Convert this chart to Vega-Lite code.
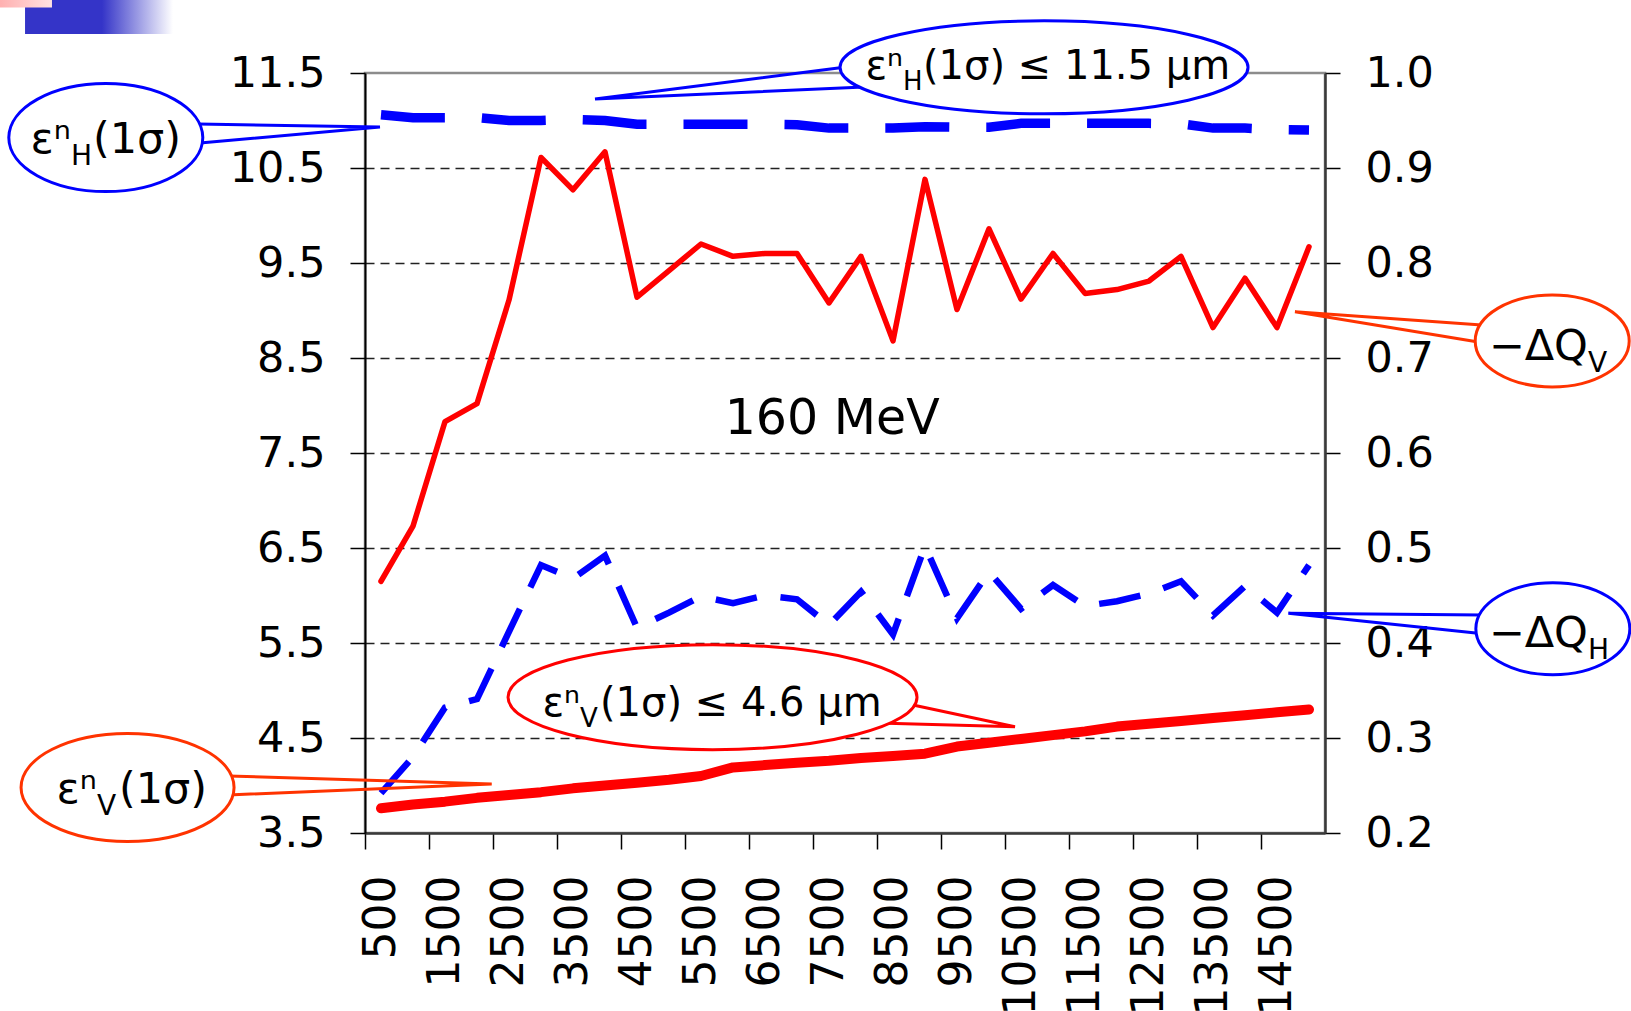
{
  "$schema": "https://vega.github.io/schema/vega-lite/v6.json",
  "width": 960,
  "height": 760,
  "autosize": {"type": "none"},
  "padding": {"left": 365, "top": 73, "right": 306, "bottom": 178},
  "background": "white",
  "config": {
    "view": {"stroke": "#8c8c8c", "strokeWidth": 2.5},
    "font": "DejaVu Sans",
    "axis": {"labelFont": "DejaVu Sans", "labelColor": "#000000"}
  },
  "datasets": {
    "runs": [
      {"e": 500, "epsH": 11.06, "epsV": 3.76, "dQV": 0.465, "dQH": 0.242},
      {"e": 1000, "epsH": 11.03, "epsV": 3.80, "dQV": 0.523, "dQH": 0.280},
      {"e": 1500, "epsH": 11.03, "epsV": 3.83, "dQV": 0.633, "dQH": 0.332},
      {"e": 2000, "epsH": 11.03, "epsV": 3.87, "dQV": 0.652, "dQH": 0.341},
      {"e": 2500, "epsH": 11.00, "epsV": 3.90, "dQV": 0.761, "dQH": 0.412},
      {"e": 3000, "epsH": 11.00, "epsV": 3.93, "dQV": 0.911, "dQH": 0.482},
      {"e": 3500, "epsH": 11.01, "epsV": 3.97, "dQV": 0.877, "dQH": 0.468},
      {"e": 4000, "epsH": 11.00, "epsV": 4.00, "dQV": 0.917, "dQH": 0.492},
      {"e": 4500, "epsH": 10.96, "epsV": 4.03, "dQV": 0.764, "dQH": 0.416},
      {"e": 5000, "epsH": 10.96, "epsV": 4.06, "dQV": 0.792, "dQH": 0.432},
      {"e": 5500, "epsH": 10.96, "epsV": 4.10, "dQV": 0.820, "dQH": 0.449},
      {"e": 6000, "epsH": 10.96, "epsV": 4.19, "dQV": 0.807, "dQH": 0.442},
      {"e": 6500, "epsH": 10.96, "epsV": 4.215, "dQV": 0.810, "dQH": 0.450},
      {"e": 7000, "epsH": 10.955, "epsV": 4.24, "dQV": 0.810, "dQH": 0.446},
      {"e": 7500, "epsH": 10.92, "epsV": 4.26, "dQV": 0.758, "dQH": 0.419},
      {"e": 8000, "epsH": 10.92, "epsV": 4.29, "dQV": 0.807, "dQH": 0.454},
      {"e": 8500, "epsH": 10.92, "epsV": 4.31, "dQV": 0.718, "dQH": 0.409},
      {"e": 9000, "epsH": 10.935, "epsV": 4.335, "dQV": 0.888, "dQH": 0.502},
      {"e": 9500, "epsH": 10.93, "epsV": 4.41, "dQV": 0.751, "dQH": 0.426},
      {"e": 10000, "epsH": 10.93, "epsV": 4.45, "dQV": 0.836, "dQH": 0.475},
      {"e": 10500, "epsH": 10.97, "epsV": 4.49, "dQV": 0.762, "dQH": 0.436},
      {"e": 11000, "epsH": 10.97, "epsV": 4.53, "dQV": 0.810, "dQH": 0.461},
      {"e": 11500, "epsH": 10.97, "epsV": 4.57, "dQV": 0.768, "dQH": 0.439},
      {"e": 12000, "epsH": 10.97, "epsV": 4.62, "dQV": 0.772, "dQH": 0.444},
      {"e": 12500, "epsH": 10.97, "epsV": 4.65, "dQV": 0.781, "dQH": 0.452},
      {"e": 13000, "epsH": 10.965, "epsV": 4.68, "dQV": 0.807, "dQH": 0.465},
      {"e": 13500, "epsH": 10.92, "epsV": 4.71, "dQV": 0.732, "dQH": 0.429},
      {"e": 14000, "epsH": 10.92, "epsV": 4.74, "dQV": 0.784, "dQH": 0.460},
      {"e": 14500, "epsH": 10.905, "epsV": 4.77, "dQV": 0.732, "dQH": 0.432},
      {"e": 15000, "epsH": 10.90, "epsV": 4.80, "dQV": 0.817, "dQH": 0.482}
    ],
    "balloons": [
      {"id": "eH", "tone": "blue", "e": -3800, "v": 10.82},
      {"id": "eHmax", "tone": "blue", "e": 10860, "v": 11.56},
      {"id": "eVmax", "tone": "red", "e": 5680, "v": 4.93},
      {"id": "eV", "tone": "orange", "e": -3460, "v": 3.98},
      {"id": "dQV", "tone": "orange", "e": 18800, "v": 8.68},
      {"id": "dQH", "tone": "blue", "e": 18810, "v": 5.65}
    ],
    "leaders": [
      {"id": "eH", "tone": "blue", "k": 0, "e": -2359, "v": 10.963},
      {"id": "eH", "tone": "blue", "k": 1, "e": 484, "v": 10.932},
      {"id": "eH", "tone": "blue", "k": 2, "e": -2328, "v": 10.763},
      {"id": "eHmax", "tone": "blue", "k": 0, "e": 7766, "v": 11.563},
      {"id": "eHmax", "tone": "blue", "k": 1, "e": 3844, "v": 11.226},
      {"id": "eHmax", "tone": "blue", "k": 2, "e": 8047, "v": 11.353},
      {"id": "eVmax", "tone": "red", "k": 0, "e": 8812, "v": 4.847},
      {"id": "eVmax", "tone": "red", "k": 1, "e": 10406, "v": 4.619},
      {"id": "eVmax", "tone": "red", "k": 2, "e": 8402, "v": 4.655},
      {"id": "eV", "tone": "orange", "k": 0, "e": -1891, "v": 4.10},
      {"id": "eV", "tone": "orange", "k": 1, "e": 2230, "v": 4.016},
      {"id": "eV", "tone": "orange", "k": 2, "e": -1891, "v": 3.90},
      {"id": "dQV", "tone": "orange", "k": 0, "e": 17698, "v": 8.847},
      {"id": "dQV", "tone": "orange", "k": 1, "e": 14781, "v": 8.987},
      {"id": "dQV", "tone": "orange", "k": 2, "e": 17620, "v": 8.672},
      {"id": "dQH", "tone": "blue", "k": 0, "e": 17703, "v": 5.795},
      {"id": "dQH", "tone": "blue", "k": 1, "e": 14677, "v": 5.813},
      {"id": "dQH", "tone": "blue", "k": 2, "e": 17641, "v": 5.602}
    ],
    "captions": [
      {"id": "eH", "kind": "short", "head": "εⁿ", "sub": "H", "tail": "(1σ)", "e": -4344, "v": 10.658},
      {"id": "eHmax", "kind": "long", "head": "εⁿ", "sub": "H", "tail": "(1σ) ≤ 11.5 μm", "e": 8656, "v": 11.437},
      {"id": "eVmax", "kind": "long", "head": "εⁿ", "sub": "V", "tail": "(1σ) ≤ 4.6 μm", "e": 3609, "v": 4.732},
      {"id": "eV", "kind": "short", "head": "εⁿ", "sub": "V", "tail": "(1σ)", "e": -3938, "v": 3.816},
      {"id": "dQV", "kind": "short", "head": "−ΔQ", "sub": "V", "tail": "", "e": 19359, "v": 8.479},
      {"id": "dQH", "kind": "short", "head": "−ΔQ", "sub": "H", "tail": "", "e": 19359, "v": 5.458}
    ],
    "notes": [
      {"text": "160 MeV", "e": 7550, "v": 7.70}
    ],
    "decor": [
      {"part": "band", "e": -5062, "e2": -2750, "v": 12.268, "v2": 11.91},
      {"part": "tab", "e": -5453, "e2": -4641, "v": 12.268, "v2": 12.19}
    ]
  },
  "resolve": {"scale": {"y": "independent"}},
  "layer": [
    {
      "data": {"name": "runs"},
      "layer": [
        {
          "mark": {"type": "line", "color": "#0000FF", "strokeWidth": 9.5, "strokeDash": [64, 37], "strokeCap": "butt"},
          "encoding": {
            "x": {
              "field": "e", "type": "quantitative",
              "scale": {"domain": [250, 15250], "nice": false, "zero": false},
              "axis": {
                "title": null,
                "values": [500, 1500, 2500, 3500, 4500, 5500, 6500, 7500, 8500, 9500, 10500, 11500, 12500, 13500, 14500],
                "format": "d",
                "labelAngle": -90,
                "labelAlign": "right",
                "labelBaseline": "middle",
                "labelFontSize": 44,
                "labelPadding": 26,
                "labelOverlap": false,
                "labelFlush": false,
                "labelBound": false,
                "tickSize": 16,
                "tickOffset": -16,
                "labelOffset": 16,
                "tickColor": "#000000",
                "tickWidth": 1.5,
                "domainColor": "#3a3a3a",
                "domainWidth": 2.5,
                "grid": false
              }
            },
            "y": {
              "field": "epsH", "type": "quantitative",
              "scale": {"domain": [3.5, 11.5], "nice": false, "zero": false},
              "axis": {
                "orient": "left",
                "title": null,
                "values": [3.5, 4.5, 5.5, 6.5, 7.5, 8.5, 9.5, 10.5, 11.5],
                "format": ".1f",
                "labelFontSize": 43,
                "labelPadding": 25,
                "labelFlush": false,
                "labelOverlap": false,
                "tickSize": 15,
                "tickColor": "#000000",
                "tickWidth": 1.5,
                "domainColor": "#000000",
                "domainWidth": 2,
                "grid": true,
                "gridColor": "#222222",
                "gridDash": [9, 6],
                "gridWidth": 1.3,
                "gridOpacity": {"condition": {"test": "datum.value <= 3.5 || datum.value >= 11.5", "value": 0}, "value": 1}
              }
            }
          }
        },
        {
          "mark": {"type": "line", "color": "#FF0000", "strokeWidth": 10, "strokeCap": "round", "strokeJoin": "round"},
          "encoding": {
            "x": {"field": "e", "type": "quantitative", "scale": {"domain": [250, 15250], "nice": false, "zero": false}},
            "y": {"field": "epsV", "type": "quantitative", "scale": {"domain": [3.5, 11.5], "nice": false, "zero": false}}
          }
        }
      ]
    },
    {
      "data": {"name": "runs"},
      "layer": [
        {
          "mark": {"type": "line", "color": "#FF0000", "strokeWidth": 5.5, "strokeCap": "round", "strokeJoin": "round"},
          "encoding": {
            "x": {"field": "e", "type": "quantitative", "scale": {"domain": [250, 15250], "nice": false, "zero": false}},
            "y": {
              "field": "dQV", "type": "quantitative",
              "scale": {"domain": [0.2, 1.0], "nice": false, "zero": false},
              "axis": {
                "orient": "right",
                "title": null,
                "values": [0.2, 0.3, 0.4, 0.5, 0.6, 0.7, 0.8, 0.9, 1.0],
                "format": ".1f",
                "labelFontSize": 43,
                "labelPadding": 25,
                "labelFlush": false,
                "labelOverlap": false,
                "tickSize": 15,
                "tickColor": "#000000",
                "tickWidth": 1.5,
                "domainColor": "#3a3a3a",
                "domainWidth": 2.5,
                "grid": false
              }
            }
          }
        },
        {
          "mark": {"type": "line", "color": "#0000FF", "strokeWidth": 6.5, "strokeDash": [42, 24], "strokeCap": "butt"},
          "encoding": {
            "x": {"field": "e", "type": "quantitative", "scale": {"domain": [250, 15250], "nice": false, "zero": false}},
            "y": {"field": "dQH", "type": "quantitative", "scale": {"domain": [0.2, 1.0], "nice": false, "zero": false}}
          }
        }
      ]
    },
    {
      "layer": [
        {
          "data": {"name": "decor"},
          "transform": [{"filter": "datum.part === 'band'"}],
          "mark": {
            "type": "rect",
            "fill": {"gradient": "linear", "x1": 0, "y1": 0, "x2": 1, "y2": 0,
              "stops": [{"offset": 0, "color": "#3434C8"}, {"offset": 0.52, "color": "#3434C8"}, {"offset": 1, "color": "#ffffff"}]}
          },
          "encoding": {
            "x": {"field": "e", "type": "quantitative", "scale": {"domain": [250, 15250], "nice": false, "zero": false}},
            "x2": {"field": "e2"},
            "y": {"field": "v", "type": "quantitative", "scale": {"domain": [3.5, 11.5], "nice": false, "zero": false}, "axis": null},
            "y2": {"field": "v2"}
          }
        },
        {
          "data": {"name": "decor"},
          "transform": [{"filter": "datum.part === 'tab'"}],
          "mark": {
            "type": "rect",
            "fill": {"gradient": "linear", "x1": 0, "y1": 0, "x2": 1, "y2": 0,
              "stops": [{"offset": 0, "color": "#FFB0B0"}, {"offset": 1, "color": "#FFE2E2"}]}
          },
          "encoding": {
            "x": {"field": "e", "type": "quantitative", "scale": {"domain": [250, 15250], "nice": false, "zero": false}},
            "x2": {"field": "e2"},
            "y": {"field": "v", "type": "quantitative", "scale": {"domain": [3.5, 11.5], "nice": false, "zero": false}, "axis": null},
            "y2": {"field": "v2"}
          }
        },
        {
          "data": {"name": "leaders"},
          "mark": {"type": "line", "strokeWidth": 3, "strokeJoin": "miter"},
          "encoding": {
            "x": {"field": "e", "type": "quantitative", "scale": {"domain": [250, 15250], "nice": false, "zero": false}},
            "y": {"field": "v", "type": "quantitative", "scale": {"domain": [3.5, 11.5], "nice": false, "zero": false}, "axis": null},
            "detail": {"field": "id"},
            "order": {"field": "k"},
            "stroke": {"field": "tone", "type": "nominal", "scale": {"domain": ["blue", "red", "orange"], "range": ["#0000FF", "#FF0000", "#FF3300"]}, "legend": null}
          }
        },
        {
          "data": {"name": "balloons"},
          "mark": {"type": "point", "filled": true, "fill": "#ffffff", "opacity": 1, "fillOpacity": 1, "strokeOpacity": 1, "strokeWidth": 3, "size": 4},
          "encoding": {
            "x": {"field": "e", "type": "quantitative", "scale": {"domain": [250, 15250], "nice": false, "zero": false}},
            "y": {"field": "v", "type": "quantitative", "scale": {"domain": [3.5, 11.5], "nice": false, "zero": false}, "axis": null},
            "stroke": {"field": "tone", "type": "nominal", "scale": {"domain": ["blue", "red", "orange"], "range": ["#0000FF", "#FF0000", "#FF3300"]}, "legend": null},
            "shape": {
              "field": "id", "type": "nominal", "legend": null,
              "scale": {
                "domain": ["eH", "eHmax", "eVmax", "eV", "dQV", "dQH"],
                "range": [
                  "M-97,0C-97,-29.82,-53.57,-54,0,-54C53.57,-54,97,-29.82,97,0C97,29.82,53.57,54,0,54C-53.57,54,-97,29.82,-97,0Z",
                  "M-204,0C-204,-25.68,-112.67,-46.5,0,-46.5C112.67,-46.5,204,-25.68,204,0C204,25.68,112.67,46.5,0,46.5C-112.67,46.5,-204,25.68,-204,0Z",
                  "M-204.5,0C-204.5,-29,-112.95,-52.5,0,-52.5C112.95,-52.5,204.5,-29,204.5,0C204.5,29,112.95,52.5,0,52.5C-112.95,52.5,-204.5,29,-204.5,0Z",
                  "M-106.5,0C-106.5,-29.82,-58.82,-54,0,-54C58.82,-54,106.5,-29.82,106.5,0C106.5,29.82,58.82,54,0,54C-58.82,54,-106.5,29.82,-106.5,0Z",
                  "M-77,0C-77,-25.41,-42.53,-46,0,-46C42.53,-46,77,-25.41,77,0C77,25.41,42.53,46,0,46C-42.53,46,-77,25.41,-77,0Z",
                  "M-77,0C-77,-25.41,-42.53,-46,0,-46C42.53,-46,77,-25.41,77,0C77,25.41,42.53,46,0,46C-42.53,46,-77,25.41,-77,0Z"
                ]
              }
            }
          }
        },
        {
          "data": {"name": "captions"},
          "transform": [{"filter": "datum.kind === 'short'"}],
          "mark": {"type": "text", "align": "right", "baseline": "alphabetic", "fontSize": 43, "font": "DejaVu Sans", "color": "#000000"},
          "encoding": {
            "x": {"field": "e", "type": "quantitative", "scale": {"domain": [250, 15250], "nice": false, "zero": false}},
            "y": {"field": "v", "type": "quantitative", "scale": {"domain": [3.5, 11.5], "nice": false, "zero": false}, "axis": null},
            "text": {"field": "head"}
          }
        },
        {
          "data": {"name": "captions"},
          "transform": [{"filter": "datum.kind === 'short'"}],
          "mark": {"type": "text", "align": "left", "baseline": "alphabetic", "fontSize": 28, "dy": 12, "font": "DejaVu Sans", "color": "#000000"},
          "encoding": {
            "x": {"field": "e", "type": "quantitative", "scale": {"domain": [250, 15250], "nice": false, "zero": false}},
            "y": {"field": "v", "type": "quantitative", "scale": {"domain": [3.5, 11.5], "nice": false, "zero": false}, "axis": null},
            "text": {"field": "sub"}
          }
        },
        {
          "data": {"name": "captions"},
          "transform": [{"filter": "datum.kind === 'short'"}],
          "mark": {"type": "text", "align": "left", "baseline": "alphabetic", "fontSize": 43, "dx": 22, "font": "DejaVu Sans", "color": "#000000"},
          "encoding": {
            "x": {"field": "e", "type": "quantitative", "scale": {"domain": [250, 15250], "nice": false, "zero": false}},
            "y": {"field": "v", "type": "quantitative", "scale": {"domain": [3.5, 11.5], "nice": false, "zero": false}, "axis": null},
            "text": {"field": "tail"}
          }
        },
        {
          "data": {"name": "captions"},
          "transform": [{"filter": "datum.kind === 'long'"}],
          "mark": {"type": "text", "align": "right", "baseline": "alphabetic", "fontSize": 40, "font": "DejaVu Sans", "color": "#000000"},
          "encoding": {
            "x": {"field": "e", "type": "quantitative", "scale": {"domain": [250, 15250], "nice": false, "zero": false}},
            "y": {"field": "v", "type": "quantitative", "scale": {"domain": [3.5, 11.5], "nice": false, "zero": false}, "axis": null},
            "text": {"field": "head"}
          }
        },
        {
          "data": {"name": "captions"},
          "transform": [{"filter": "datum.kind === 'long'"}],
          "mark": {"type": "text", "align": "left", "baseline": "alphabetic", "fontSize": 26, "dy": 11, "font": "DejaVu Sans", "color": "#000000"},
          "encoding": {
            "x": {"field": "e", "type": "quantitative", "scale": {"domain": [250, 15250], "nice": false, "zero": false}},
            "y": {"field": "v", "type": "quantitative", "scale": {"domain": [3.5, 11.5], "nice": false, "zero": false}, "axis": null},
            "text": {"field": "sub"}
          }
        },
        {
          "data": {"name": "captions"},
          "transform": [{"filter": "datum.kind === 'long'"}],
          "mark": {"type": "text", "align": "left", "baseline": "alphabetic", "fontSize": 40, "dx": 20, "font": "DejaVu Sans", "color": "#000000"},
          "encoding": {
            "x": {"field": "e", "type": "quantitative", "scale": {"domain": [250, 15250], "nice": false, "zero": false}},
            "y": {"field": "v", "type": "quantitative", "scale": {"domain": [3.5, 11.5], "nice": false, "zero": false}, "axis": null},
            "text": {"field": "tail"}
          }
        },
        {
          "data": {"name": "notes"},
          "mark": {"type": "text", "align": "center", "baseline": "alphabetic", "fontSize": 49, "font": "DejaVu Sans", "color": "#000000"},
          "encoding": {
            "x": {"field": "e", "type": "quantitative", "scale": {"domain": [250, 15250], "nice": false, "zero": false}},
            "y": {"field": "v", "type": "quantitative", "scale": {"domain": [3.5, 11.5], "nice": false, "zero": false}, "axis": null},
            "text": {"field": "text"}
          }
        }
      ]
    }
  ]
}
